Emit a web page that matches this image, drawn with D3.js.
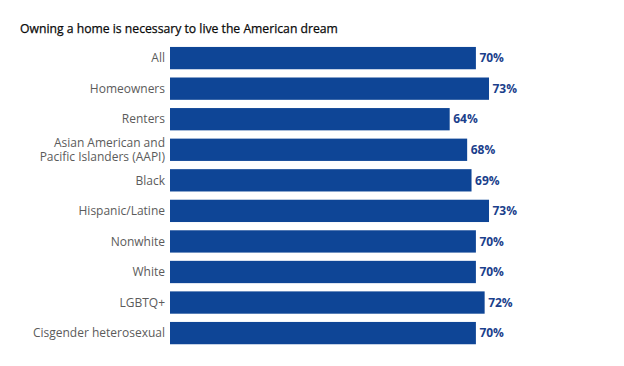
<!DOCTYPE html>
<html>
<head>
<meta charset="utf-8">
<script src="https://cdn.jsdelivr.net/npm/d3@7"></script>
<style>
  body { margin: 0; background: #fff; }
  svg { display: block; font-family: "Open Sans", "Noto Sans", sans-serif; }
</style>
</head>
<body>
<svg id="grafico" width="624" height="366"></svg>
<script>
// dados
const categories = [
  "All",
  "Homeowners",
  "Renters",
  "Asian American and|Pacific Islanders (AAPI)",
  "Black",
  "Hispanic/Latine",
  "Nonwhite",
  "White",
  "LGBTQ+",
  "Cisgender heterosexual"
];
const values = [70, 73, 64, 68, 69, 73, 70, 70, 72, 70];
const title = "Owning a home is necessary to live the American dream";

const data = categories.map((c, i) => ({ label: c, value: values[i] }));

const width = 624, height = 366;
const margin = { top: 38.7, right: 17, bottom: 13.5, left: 170 };

const svg = d3.select("#grafico");

svg.append("text")
  .attr("x", 20)
  .attr("y", 32.5)
  .attr("fill", "#0a0a0a")
  .style("font-size", "12.2px")
  .style("font-weight", 500)
  .style("stroke", "#0a0a0a")
  .style("stroke-width", "0.25px")
  .text(title);

// eixo X (0 a 100%)
const x = d3.scaleLinear()
  .domain([0, 100])
  .range([margin.left, width - margin.right]);

// eixo Y (categorias)
const y = d3.scaleBand()
  .domain(categories)
  .range([margin.top, height - margin.bottom])
  .paddingInner(0.27)
  .paddingOuter(0.27);

svg.append("g")
  .selectAll("rect")
  .data(data)
  .join("rect")
  .attr("x", x(0))
  .attr("y", d => y(d.label))
  .attr("width", d => x(d.value) - x(0))
  .attr("height", y.bandwidth())
  .attr("fill", "#0e4596");

// rótulos das categorias
const labels = svg.append("g")
  .selectAll("text")
  .data(data)
  .join("text")
  .attr("x", x(0) - 5)
  .attr("y", d => y(d.label) + y.bandwidth() / 2)
  .attr("text-anchor", "end")
  .attr("fill", "#5b5b5b")
  .style("font-size", "12px");

labels.each(function(d) {
  const lines = d.label.split("|");
  const el = d3.select(this);
  lines.forEach((line, i) => {
    el.append("tspan")
      .attr("x", x(0) - 5)
      .attr("dy", i === 0 ? (0.35 - (lines.length - 1) * 0.57) + "em" : "1.15em")
      .text(line);
  });
});

// valores nas barras
svg.append("g")
  .selectAll("text")
  .data(data)
  .join("text")
  .attr("x", d => x(d.value) + 3.5)
  .attr("y", d => y(d.label) + y.bandwidth() / 2)
  .attr("dy", "0.35em")
  .attr("fill", "#1b3f8c")
  .style("font-size", "12px")
  .style("font-weight", 700)
  .text(d => d.value + "%");
</script>
</body>
</html>
